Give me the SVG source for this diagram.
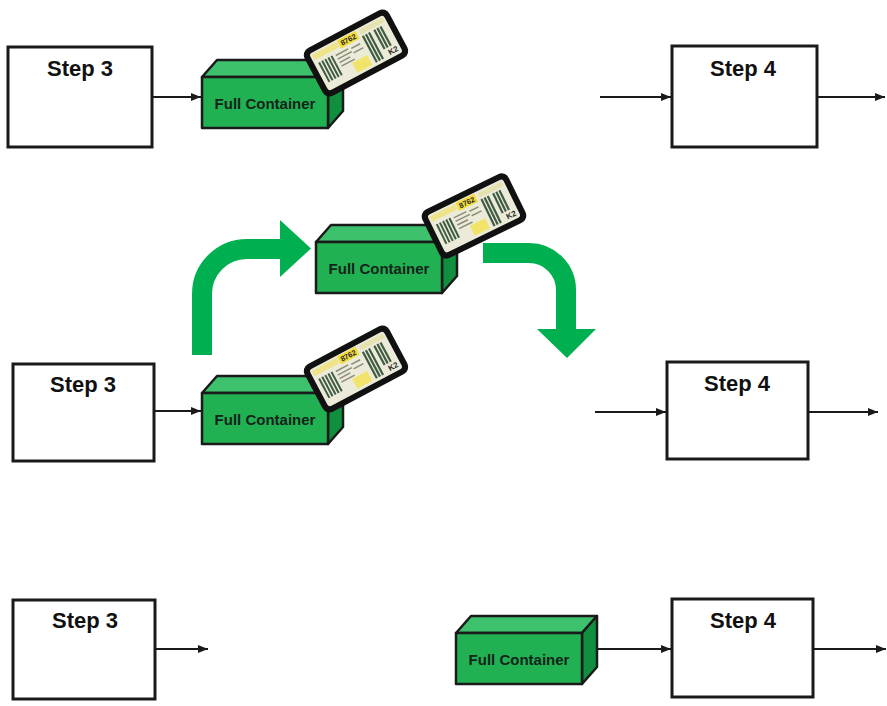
<svg xmlns="http://www.w3.org/2000/svg" xmlns:xlink="http://www.w3.org/1999/xlink" width="887" height="706" viewBox="0 0 887 706">
  <style>
    .step { fill: #ffffff; stroke: #1a1a1a; stroke-width: 3; }
    .step-label { font-family: "Liberation Sans", Arial, sans-serif; font-weight: bold; font-size: 22px; fill: #111111; text-anchor: middle; }
    .flow { fill: none; stroke: #1a1a1a; stroke-width: 2; }
    .box-front { fill: #21b153; stroke: #1a1a1a; stroke-width: 2.5; stroke-linejoin: round; }
    .box-top { fill: #3dc16d; stroke: #1a1a1a; stroke-width: 2.5; stroke-linejoin: round; }
    .box-side { fill: #10903e; stroke: #1a1a1a; stroke-width: 2.5; stroke-linejoin: round; }
    .box-label { font-family: "Liberation Sans", Arial, sans-serif; font-weight: bold; font-size: 15px; fill: #14241a; text-anchor: middle; }
    .move { fill: none; stroke: #00b050; stroke-width: 20; }
    .move-head { fill: #00b050; }
    .bar { fill: #3f5c42; }
    .line { fill: #8c8c7c; }
  </style>
  <defs>
    <marker id="arrow" viewBox="0 0 10 8" refX="10" refY="4" markerWidth="10" markerHeight="8" markerUnits="userSpaceOnUse" orient="auto">
      <path d="M0,0 L10,4 L0,8 Z" fill="#1a1a1a"/>
    </marker>
    <!-- container: front face at origin, 126 x 51, depth offset (15,-17) -->
    <g id="container">
      <polygon class="box-top" points="0,0 15,-17 141,-17 126,0"/>
      <polygon class="box-side" points="126,0 141,-17 141,34 126,51"/>
      <rect class="box-front" x="0" y="0" width="126" height="51"/>
      <text class="box-label" x="63" y="32">Full Container</text>
    </g>
    <!-- kanban card, centred on origin -->
    <g id="kanban-card">
      <rect x="-48" y="-27" width="96" height="54" rx="8" fill="#111111"/>
      <rect x="-42" y="-21" width="84" height="42" rx="3" fill="#ecebd9"/>
      <rect x="-40" y="-19" width="28" height="6" fill="#efe38a"/>
      <rect x="-11" y="-20" width="21" height="9" fill="#f2dc3c"/>
      <text x="-0.5" y="-12.8" font-family="Liberation Sans, Arial, sans-serif" font-weight="bold" font-size="7.5" fill="#2a2a2a" text-anchor="middle">8762</text>
      <rect x="13" y="-19" width="27" height="5" fill="#e6e2b0"/>
      <rect class="bar" x="-38" y="-9" width="2" height="22"/>
      <rect class="bar" x="-34.5" y="-9" width="2" height="22"/>
      <rect class="bar" x="-31" y="-9" width="2" height="22"/>
      <rect class="bar" x="-27.5" y="-9" width="2" height="22"/>
      <rect class="bar" x="-24" y="-9" width="2" height="22"/>
      <rect class="line" x="-19" y="-8" width="14" height="1.5"/>
      <rect class="line" x="-19" y="-4" width="16" height="1.5"/>
      <rect class="line" x="-19" y="0" width="12" height="1.5"/>
      <rect class="line" x="-19" y="4" width="15" height="1.5"/>
      <rect class="line" x="-2" y="-7" width="10" height="1.5"/>
      <rect class="line" x="-2" y="-2" width="11" height="1.5"/>
      <rect x="-8" y="7" width="17" height="11" fill="#f2e46a"/>
      <rect class="bar" x="13" y="-12" width="2.2" height="30"/>
      <rect class="bar" x="16.5" y="-12" width="2.2" height="30"/>
      <rect class="bar" x="20" y="-12" width="2.2" height="30"/>
      <rect class="bar" x="26" y="-12" width="2.2" height="22"/>
      <rect class="bar" x="29.5" y="-12" width="2.2" height="22"/>
      <rect class="bar" x="33" y="-12" width="2.2" height="22"/>
      <text x="34" y="18" font-family="Liberation Sans, Arial, sans-serif" font-weight="bold" font-size="8" fill="#2a2a2a" text-anchor="middle">K2</text>
    </g>
  </defs>

  <rect width="887" height="706" fill="#ffffff"/>

  <!-- connectors -->
  <g id="connectors">
    <line class="flow" x1="152" y1="97" x2="201" y2="97" marker-end="url(#arrow)"/>
    <line class="flow" x1="600" y1="97" x2="671" y2="97" marker-end="url(#arrow)"/>
    <line class="flow" x1="817" y1="97" x2="885" y2="97" marker-end="url(#arrow)"/>

    <line class="flow" x1="154" y1="411" x2="201" y2="411" marker-end="url(#arrow)"/>
    <line class="flow" x1="595" y1="412" x2="666" y2="412" marker-end="url(#arrow)"/>
    <line class="flow" x1="808" y1="412" x2="878" y2="412" marker-end="url(#arrow)"/>

    <line class="flow" x1="155" y1="649" x2="208" y2="649" marker-end="url(#arrow)"/>
    <line class="flow" x1="598" y1="649" x2="671" y2="649" marker-end="url(#arrow)"/>
    <line class="flow" x1="813" y1="649" x2="886" y2="649" marker-end="url(#arrow)"/>

    <!-- green movement arrows -->
    <path class="move" d="M202,355 L202,294 A45,45 0 0 1 247,249 L282,249"/>
    <polygon class="move-head" points="280,220 311,248.5 280,277"/>
    <path class="move" d="M483,253 L529,253 A37,37 0 0 1 566,290 L566,331"/>
    <polygon class="move-head" points="537,329 596,329 567,358"/>
  </g>

  <!-- row 1 -->
  <g id="step3-top">
    <rect class="step" x="8" y="47" width="144" height="100"/>
    <text class="step-label" x="80" y="76">Step 3</text>
  </g>
  <g id="container-top">
    <use xlink:href="#container" href="#container" transform="translate(202,77)"/>
    <use xlink:href="#kanban-card" href="#kanban-card" transform="translate(356,53) rotate(-28)"/>
  </g>
  <g id="step4-top">
    <rect class="step" x="672" y="46" width="145" height="101"/>
    <text class="step-label" x="743" y="76">Step 4</text>
  </g>

  <!-- row 2 -->
  <g id="step3-mid">
    <rect class="step" x="13" y="364" width="141" height="97"/>
    <text class="step-label" x="83" y="392">Step 3</text>
  </g>
  <g id="container-moving">
    <use xlink:href="#container" href="#container" transform="translate(316,242)"/>
    <use xlink:href="#kanban-card" href="#kanban-card" transform="translate(474,216) rotate(-26)"/>
  </g>
  <g id="container-mid">
    <use xlink:href="#container" href="#container" transform="translate(202,393)"/>
    <use xlink:href="#kanban-card" href="#kanban-card" transform="translate(356,369) rotate(-28)"/>
  </g>
  <g id="step4-mid">
    <rect class="step" x="667" y="362" width="141" height="97"/>
    <text class="step-label" x="737" y="391">Step 4</text>
  </g>

  <!-- row 3 -->
  <g id="step3-bottom">
    <rect class="step" x="13" y="600" width="142" height="99"/>
    <text class="step-label" x="85" y="628">Step 3</text>
  </g>
  <g id="container-bottom">
    <use xlink:href="#container" href="#container" transform="translate(456,633)"/>
  </g>
  <g id="step4-bottom">
    <rect class="step" x="672" y="599" width="141" height="98"/>
    <text class="step-label" x="743" y="628">Step 4</text>
  </g>
</svg>
